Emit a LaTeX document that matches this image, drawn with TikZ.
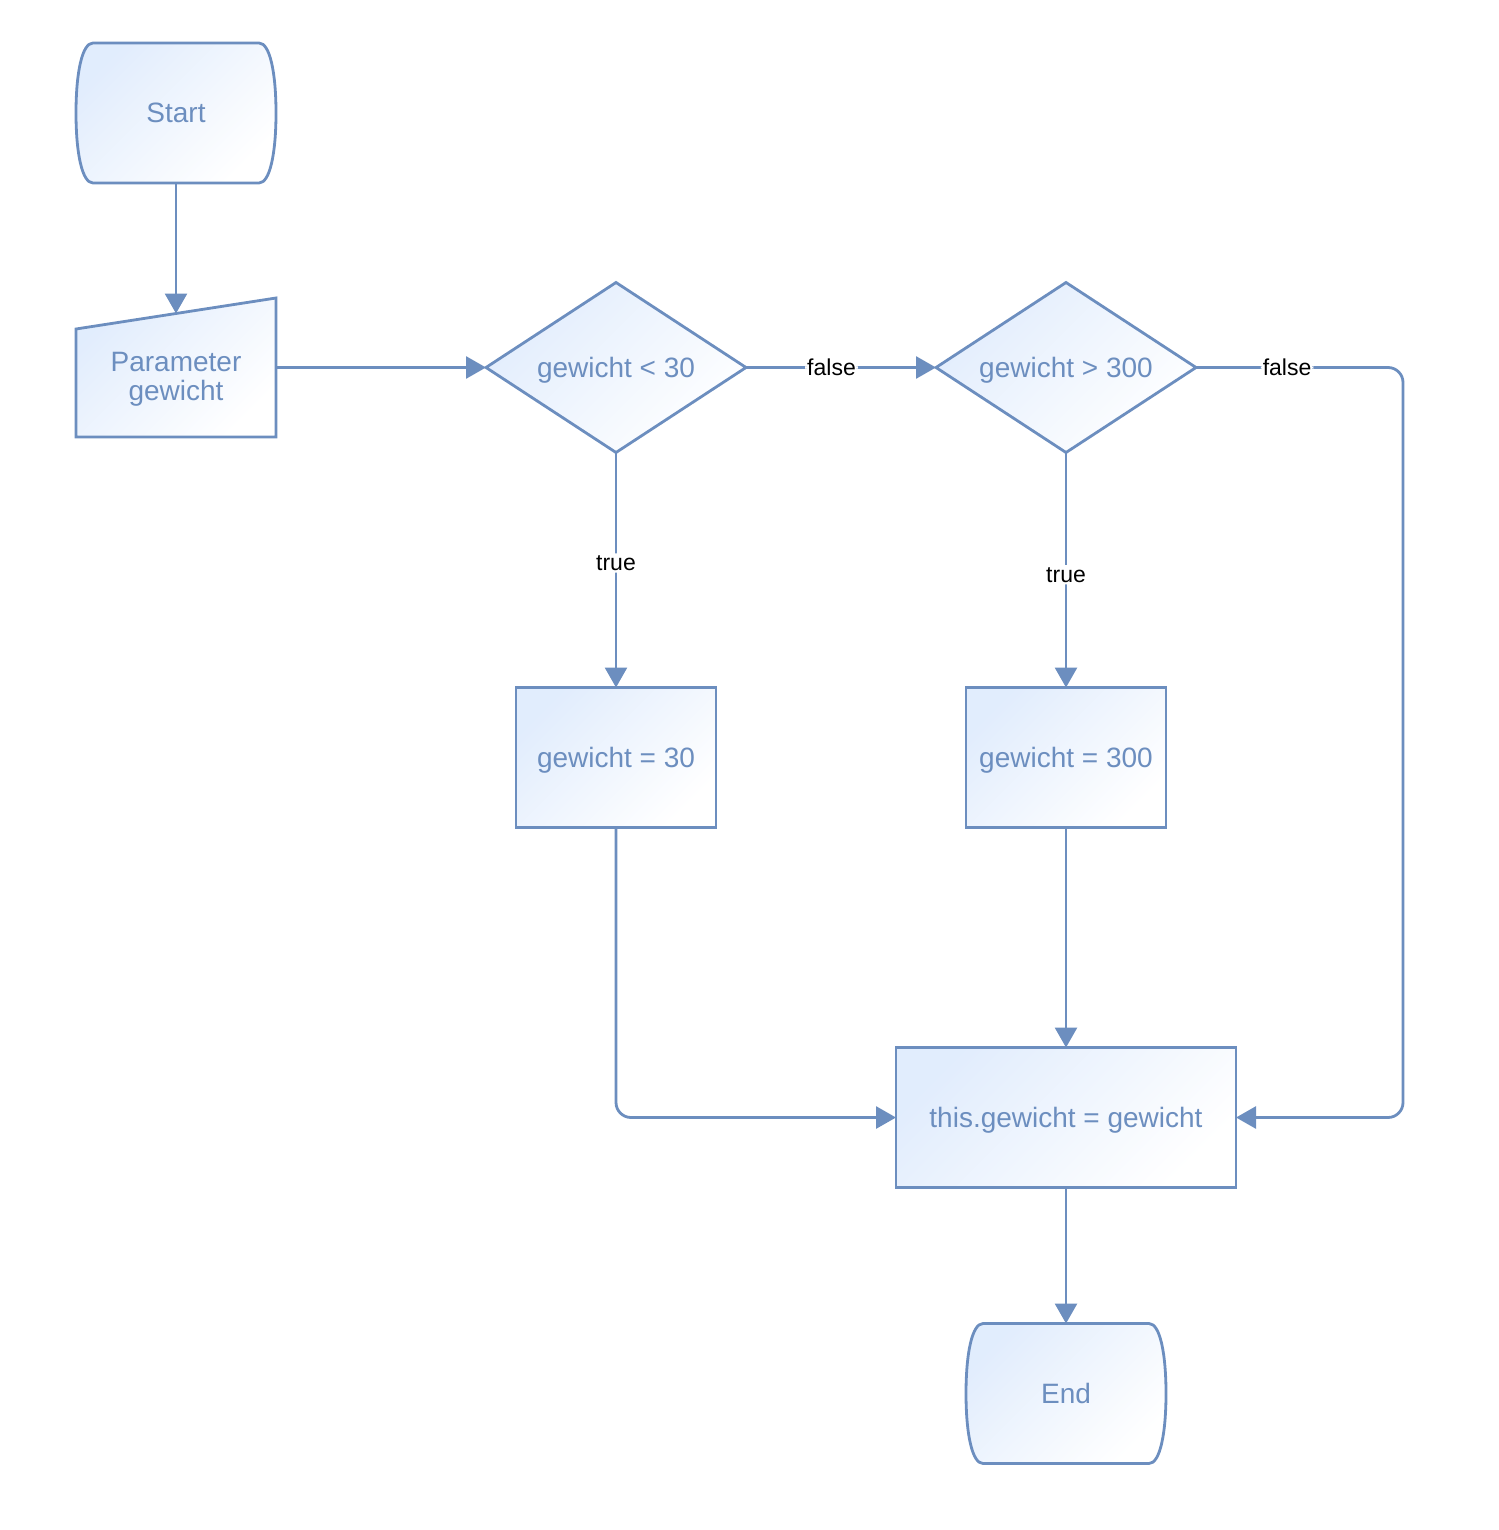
\documentclass[tikz,border=0pt]{standalone}
\usepackage{fontspec}
\setmainfont{Liberation Sans}
\usetikzlibrary{shapes, arrows.meta, positioning, calc, backgrounds}
\definecolor{flowline}{HTML}{6C8EBF}
\definecolor{flowfill}{HTML}{DAE8FC}

\begin{document}
\begin{tikzpicture}[x=0.5pt, y=-0.5pt,
    flowshade/.style={top color=flowfill!80!white, bottom color=white, shading angle=45},
    elem/.style={draw=flowline,line width=1.4pt,flowshade,rectangle,outer sep=0pt,align=center,minimum width=100pt, minimum height=70pt,text=flowline,text height=12pt,text depth=1.7pt,font=\fontsize{14}{14.4}\selectfont},
    termbox/.style={rectangle,outer sep=0pt,minimum width=100pt, minimum height=70pt,text=flowline,text height=12pt,text depth=2pt,font=\fontsize{14}{14.4}\selectfont},
    decide/.style={draw=flowline,line width=1.4pt,flowshade,diamond,aspect=1.53,inner sep=0pt,outer sep=0pt,minimum width=130pt, minimum height=85pt,text=flowline,text height=12pt,text depth=2pt,font=\fontsize{14}{14.4}\selectfont},
    outline/.style={draw=flowline,line width=1.4pt,flowshade},
    link/.style={draw=flowline,line width=1.4pt,rounded corners=7.5pt,-{Triangle[length=10pt,width=11pt]}},
    lbl/.style={fill=white,text=black,inner sep=1pt,font=\fontsize{11.5}{13}\selectfont}]
    \useasboundingbox (0,0) rectangle (1498,1530);
    \node (start) [termbox] at (176,113) {Start};
    \node (param) [termbox,minimum height=69.5pt,below=57.5pt of start,
        label={[text=flowline,align=center,yshift=-6pt,font=\fontsize{14}{14.4}\selectfont]center:{Parameter\\gewicht}}] {};
    \node (cond1) [decide,right=105pt of param] {gewicht < 30};
    \node (cond2) [decide,right=95pt of cond1] {gewicht > 300};
    \node (low) [elem,below=117.5pt of cond1] {gewicht = 30};
    \node (high) [elem,below=117.5pt of cond2] {gewicht = 300};
    \node (assign) [elem,minimum width=170pt,below=110pt of high] {this.gewicht = gewicht};
    \node (stop) [termbox,below=68pt of assign] {End};
    \coordinate (paramtop) at ($(param.north)+(0,15.5)$);
    \coordinate [right=103.5pt of cond2] (bend);
    % terminal and input outlines
    \begin{scope}[on background layer]
        \foreach \t in {start,stop}
            \draw[outline,shift={(\t.center)}] (-41.5pt,35pt) -- (41.5pt,35pt)
                .. controls (47pt,35pt) and (50pt,20pt) .. (50pt,0pt)
                .. controls (50pt,-20pt) and (47pt,-35pt) .. (41.5pt,-35pt) -- (-41.5pt,-35pt)
                .. controls (-47pt,-35pt) and (-50pt,-20pt) .. (-50pt,0pt)
                .. controls (-50pt,20pt) and (-47pt,35pt) .. (-41.5pt,35pt) -- cycle;
        \draw[outline,shift={(param.center)}] (-50pt,-34.75pt) -- (-50pt,19.25pt) -- (50pt,34.75pt) -- (50pt,-34.75pt) -- cycle;
    \end{scope}
    \draw[link] (start) -- (paramtop);
    \draw[link] (param) -- (cond1);
    \draw[link] (cond1) -- node[lbl,pos=0.45] {false} (cond2);
    \draw[link] (cond1) -- node[lbl,pos=0.47] {true} (low);
    \draw[link] (cond2) -- node[lbl,pos=0.52] {true} (high);
    \draw[link] (cond2) -- node[lbl,pos=0.44] {false} (bend) |- (assign);
    \draw[link] (low) |- (assign);
    \draw[link] (high) -- (assign);
    \draw[link] (assign) -- (stop);
\end{tikzpicture}
\end{document}
